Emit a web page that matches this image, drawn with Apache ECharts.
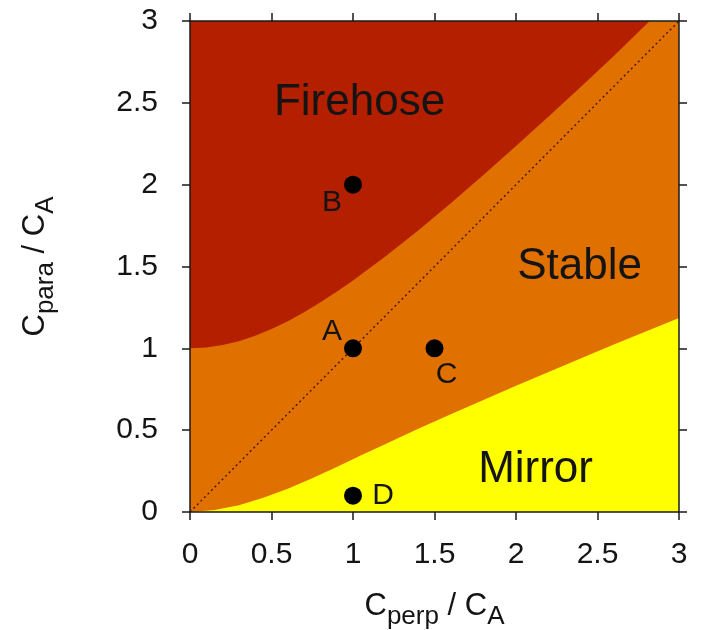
<!DOCTYPE html>
<html><head><meta charset="utf-8">
<script src="https://cdn.jsdelivr.net/npm/echarts@6/dist/echarts.min.js"></script>
<style>html,body{margin:0;padding:0;background:#fff}#c{width:701px;height:630px}</style>
</head><body><div id="c"></div>
<script>
// ---- data ----
const xTicks = [0, 0.5, 1, 1.5, 2, 2.5, 3];
const yTicks = [0, 0.5, 1, 1.5, 2, 2.5, 3];
// firehose threshold curve (C_para/C_A vs C_perp/C_A)
const firehoseX = [0, 0.1, 0.2, 0.3, 0.4, 0.5, 0.6, 0.7, 0.8, 0.9, 1.0, 1.2, 1.4, 1.6, 1.8, 2.0, 2.2, 2.4, 2.6, 2.82];
const firehoseY = [1.0, 1.005, 1.02, 1.044, 1.077, 1.118, 1.166, 1.221, 1.281, 1.345, 1.414, 1.562, 1.72, 1.887, 2.059, 2.236, 2.417, 2.6, 2.786, 3.0];
// mirror threshold curve
const mirrorX = [0, 0.15, 0.3, 0.45, 0.6, 0.75, 0.9, 1.05, 1.2, 1.4, 1.6, 1.8, 2.0, 2.2, 2.4, 2.6, 2.8, 3.0];
const mirrorY = [0, 0.012, 0.042, 0.087, 0.142, 0.206, 0.275, 0.346, 0.416, 0.508, 0.598, 0.685, 0.771, 0.856, 0.94, 1.023, 1.105, 1.185];
// isotropy line
const diagonalX = [0, 3];
const diagonalY = [0, 3];
// marked states
const pointNames = ['A', 'B', 'C', 'D'];
const pointX = [1, 1, 1.5, 1];
const pointY = [1, 2, 1, 0.1];
// region names and their anchor in data units
const regionNames = ['Firehose', 'Stable', 'Mirror'];
const regionX = [1.04, 2.39, 2.12];
const regionY = [2.50, 1.50, 0.257];

// ---- styling ----
const FONT = 'Liberation Sans, Arial, Helvetica, sans-serif';
const TXT = '#141414';
const C_FIRE = '#B41F00';
const C_STABLE = '#E07000';
const C_MIRROR = '#FFFF00';
const labelOffset = { A: [-21, -17], B: [-21, 18], C: [12, 26], D: [30, 0] };

const zip = (xs, ys) => xs.map((x, i) => [x, ys[i]]);
const step = a => a[1] - a[0];

const nameRich = {
  m: { fontSize: 31, fontFamily: FONT, color: TXT, padding: [0, 0, 8, 0], verticalAlign: 'bottom' },
  s: { fontSize: 26, fontFamily: FONT, color: TXT, padding: [8, 0, 0, 0], verticalAlign: 'bottom' }
};
const tickStyle = { show: true, inside: false, length: 8, lineStyle: { color: '#1a1a1a', width: 1.5 } };
const lineStyle = { show: true, lineStyle: { color: '#1a1a1a', width: 1.5 } };

function xAx(pos, main) {
  return {
    type: 'value', position: pos, min: xTicks[0], max: xTicks[xTicks.length - 1], interval: step(xTicks),
    axisLine: Object.assign({ onZero: false }, lineStyle), axisTick: tickStyle, splitLine: { show: false },
    axisLabel: { show: main, fontSize: 30, fontFamily: FONT, color: TXT, margin: 28 },
    name: main ? '{m|C}{s|perp}{m| / C}{s|A}' : '', nameLocation: 'middle', nameGap: 79,
    nameTextStyle: { rich: nameRich }, z: 10
  };
}
function yAx(pos, main) {
  return {
    type: 'value', position: pos, min: yTicks[0], max: yTicks[yTicks.length - 1], interval: step(yTicks),
    axisLine: Object.assign({ onZero: false }, lineStyle), axisTick: tickStyle, splitLine: { show: false },
    axisLabel: { show: main, fontSize: 30, fontFamily: FONT, color: TXT, margin: 32 },
    name: main ? '{m|C}{s|para}{m| / C}{s|A}' : '', nameLocation: 'middle', nameRotate: 90, nameGap: 131,
    nameTextStyle: { rich: nameRich }, z: 10
  };
}

const option = {
  animation: false,
  backgroundColor: '#ffffff',
  grid: { left: 190, top: 21, width: 489, height: 491, show: true, backgroundColor: C_STABLE, borderWidth: 0,
          containLabel: false, outerBoundsMode: 'none' },
  xAxis: [xAx('bottom', true), xAx('top', false)],
  yAxis: [yAx('left', true), yAx('right', false)],
  series: [
    { type: 'line', data: zip(firehoseX, firehoseY), smooth: false, symbol: 'none',
      lineStyle: { width: 0 }, areaStyle: { color: C_FIRE, opacity: 1, origin: 'end' }, z: 2 },
    { type: 'line', data: zip(mirrorX, mirrorY), smooth: false, symbol: 'none',
      lineStyle: { width: 0 }, areaStyle: { color: C_MIRROR, opacity: 1, origin: 'start' }, z: 2 },
    { type: 'line', data: zip(diagonalX, diagonalY), symbol: 'none',
      lineStyle: { color: '#4a1500', width: 1.4, type: [2, 3] }, z: 3 },
    { type: 'scatter', symbol: 'circle', symbolSize: 18, itemStyle: { color: '#000', opacity: 1 }, z: 5,
      data: pointNames.map((n, i) => ({
        value: [pointX[i], pointY[i]], name: n,
        label: { show: true, position: 'inside', offset: labelOffset[n], formatter: n,
                 fontSize: 30, fontFamily: FONT, color: TXT, opacity: 1 }
      })) },
    { type: 'scatter', symbolSize: 0, silent: true, z: 6, itemStyle: { opacity: 1 },
      data: regionNames.map((n, i) => ({ value: [regionX[i], regionY[i]], name: n })),
      label: { show: true, position: 'inside', formatter: p => p.name, fontSize: 44, fontFamily: FONT, color: TXT, opacity: 1 } }
  ]
};
echarts.init(document.getElementById('c'), null, { renderer: 'canvas' }).setOption(option);
</script></body></html>
